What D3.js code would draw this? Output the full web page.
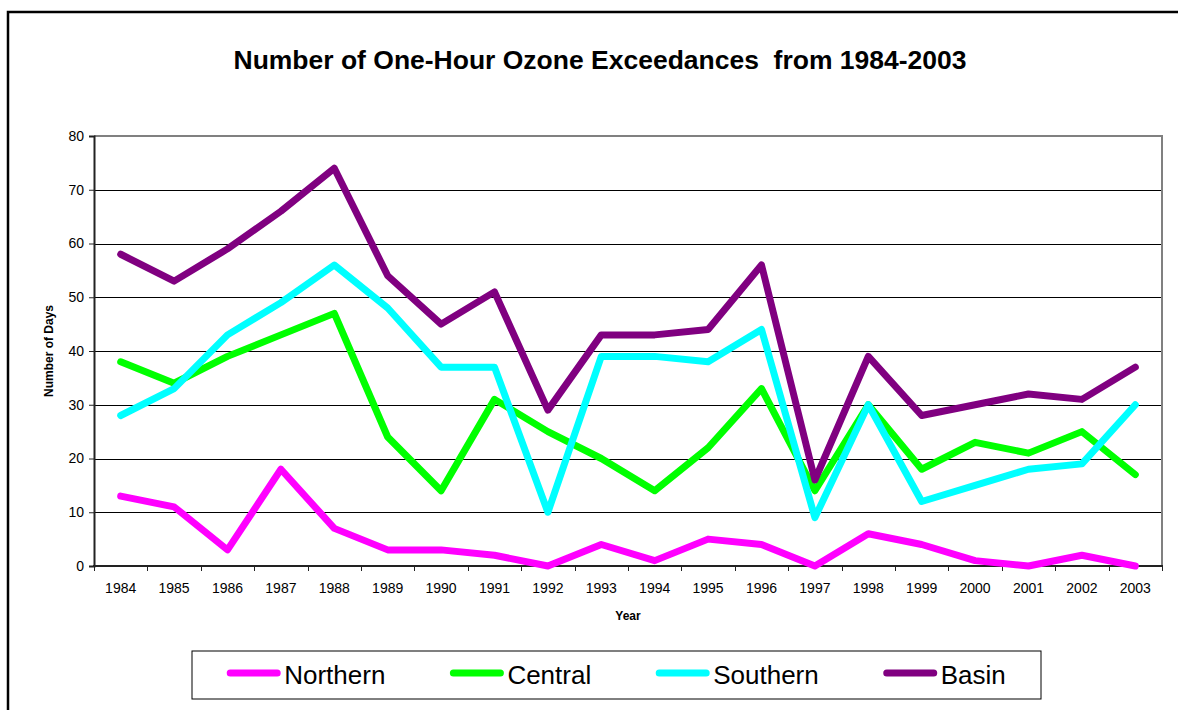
<!DOCTYPE html>
<html>
<head>
<meta charset="utf-8">
<script src="https://cdnjs.cloudflare.com/ajax/libs/d3/7.8.5/d3.min.js"></script>
<style>
  body { margin: 0; background: #fff; }
  svg { font-family: "Liberation Sans", Arial, sans-serif; display: block; }
</style>
</head>
<body>
<div class="canvas"></div>
<script>
// data
const years = ['1984','1985','1986','1987','1988','1989','1990','1991','1992','1993',
               '1994','1995','1996','1997','1998','1999','2000','2001','2002','2003'];
const northern = [13, 11, 3, 18, 7, 3, 3, 2, 0, 4, 1, 5, 4, 0, 6, 4, 1, 0, 2, 0];
const central  = [38, 34, 39, 43, 47, 24, 14, 31, 25, 20, 14, 22, 33, 14, 30, 18, 23, 21, 25, 17];
const southern = [28, 33, 43, 49, 56, 48, 37, 37, 10, 39, 39, 38, 44, 9, 30, 12, 15, 18, 19, 30];
const basin    = [58, 53, 59, 66, 74, 54, 45, 51, 29, 43, 43, 44, 56, 16, 39, 28, 30, 32, 31, 37];
const yTicks = [0, 10, 20, 30, 40, 50, 60, 70, 80];

const series = [
  { name: 'Northern', values: northern, color: '#FF00FF' },
  { name: 'Central',  values: central,  color: '#00FF00' },
  { name: 'Southern', values: southern, color: '#00FFFF' },
  { name: 'Basin',    values: basin,    color: '#800080' }
];

const W = 1178, H = 710;
const plot = { left: 94, right: 1162, top: 136, bottom: 566 };

const svg = d3.select('.canvas')
  .append('svg')
  .attr('width', W)
  .attr('height', H);

// outer chart border (runs off the page on right/bottom)
svg.append('rect')
  .attr('x', 8).attr('y', 12)
  .attr('width', 1200).attr('height', 800)
  .attr('fill', 'none')
  .attr('stroke', '#000')
  .attr('stroke-width', 2.5);

// title
svg.append('text')
  .attr('x', 600).attr('y', 69)
  .attr('text-anchor', 'middle')
  .attr('font-size', 25)
  .attr('font-weight', 'bold')
  .attr('textLength', 733)
  .attr('lengthAdjust', 'spacingAndGlyphs')
  .style('white-space', 'pre')
  .text('Number of One-Hour Ozone Exceedances  from 1984-2003');

// scales
const x = d3.scaleBand()
  .domain(years)
  .range([plot.left, plot.right]);

const y = d3.scaleLinear()
  .domain([0, 80])
  .range([plot.bottom, plot.top]);

// gridlines
svg.append('g')
  .selectAll('line')
  .data(yTicks.filter(t => t > 0 && t < 80))
  .enter().append('line')
    .attr('x1', plot.left).attr('x2', plot.right)
    .attr('y1', d => Math.round(y(d)) + 0.5)
    .attr('y2', d => Math.round(y(d)) + 0.5)
    .attr('stroke', '#000')
    .attr('stroke-width', 1);

// plot area top + right border (grey)
svg.append('path')
  .attr('d', `M${plot.left},${plot.top} H${plot.right} V${plot.bottom}`)
  .attr('fill', 'none')
  .attr('stroke', '#808080')
  .attr('stroke-width', 2);

// y axis
const yAxis = svg.append('g')
  .attr('transform', `translate(${plot.left},0)`)
  .call(d3.axisLeft(y).tickValues(yTicks).tickSize(5).tickPadding(5));
yAxis.select('.domain').attr('stroke', '#222').attr('stroke-width', 2);
yAxis.selectAll('.tick line').attr('stroke', '#222').attr('stroke-width', 1);
yAxis.selectAll('.tick text')
  .attr('font-size', 14)
  .attr('fill', '#000')
  .attr('font-family', '"Liberation Sans", Arial, sans-serif');

// x axis: ticks between categories
const xAxis = svg.append('g')
  .attr('transform', `translate(0,${plot.bottom})`);
xAxis.append('line')
  .attr('x1', plot.left - 1).attr('x2', plot.right + 1)
  .attr('y1', 0).attr('y2', 0)
  .attr('stroke', '#222').attr('stroke-width', 2);
const boundaries = years.map(d => x(d)).concat([plot.right]);
xAxis.selectAll('line.tk')
  .data(boundaries)
  .enter().append('line')
    .attr('class', 'tk')
    .attr('x1', d => Math.round(d) + 0.5).attr('x2', d => Math.round(d) + 0.5)
    .attr('y1', 0).attr('y2', 5)
    .attr('stroke', '#222');
xAxis.selectAll('text')
  .data(years)
  .enter().append('text')
    .attr('x', d => x(d) + x.bandwidth() / 2)
    .attr('y', 27)
    .attr('text-anchor', 'middle')
    .attr('font-size', 14)
    .text(d => d);

// axis titles
svg.append('text')
  .attr('x', (plot.left + plot.right) / 2).attr('y', 620)
  .attr('text-anchor', 'middle')
  .attr('font-size', 12)
  .attr('font-weight', 'bold')
  .text('Year');

svg.append('text')
  .attr('transform', `translate(53, ${(plot.top + plot.bottom) / 2}) rotate(-90)`)
  .attr('text-anchor', 'middle')
  .attr('font-size', 12)
  .attr('font-weight', 'bold')
  .text('Number of Days');

// lines
const line = d3.line()
  .x((d, i) => x(years[i]) + x.bandwidth() / 2)
  .y(d => y(d));

svg.append('g')
  .selectAll('path')
  .data(series)
  .enter().append('path')
    .attr('d', d => line(d.values))
    .attr('fill', 'none')
    .attr('stroke', d => d.color)
    .attr('stroke-width', 7)
    .attr('stroke-linejoin', 'round')
    .attr('stroke-linecap', 'round');

// legend
const legendBox = { x: 192, y: 651, w: 849, h: 48 };
svg.append('rect')
  .attr('x', legendBox.x).attr('y', legendBox.y)
  .attr('width', legendBox.w).attr('height', legendBox.h)
  .attr('fill', '#fff')
  .attr('stroke', '#000')
  .attr('stroke-width', 1);

const legend = svg.append('g');
const items = legend.selectAll('g')
  .data(series)
  .enter().append('g');
items.append('text')
  .attr('font-size', 26)
  .attr('y', 684)
  .text(d => d.name);

// lay out entries: line 53px, gap 4, text, gap 65
let widths = [];
items.select('text').each(function () { widths.push(this.getComputedTextLength()); });
const lineLen = 53, gapText = 4, gapItem = 65;
const total = d3.sum(widths) + series.length * (lineLen + gapText) + (series.length - 1) * gapItem;
let cx = legendBox.x + (legendBox.w - total) / 2;
items.each(function (d, i) {
  const g = d3.select(this);
  g.insert('line', 'text')
    .attr('x1', cx + 3).attr('x2', cx + lineLen - 3)
    .attr('y1', 673).attr('y2', 673)
    .attr('stroke', d.color)
    .attr('stroke-width', 7)
    .attr('stroke-linecap', 'round');
  g.select('text').attr('x', cx + lineLen + gapText);
  cx += lineLen + gapText + widths[i] + gapItem;
});
</script>
</body>
</html>
